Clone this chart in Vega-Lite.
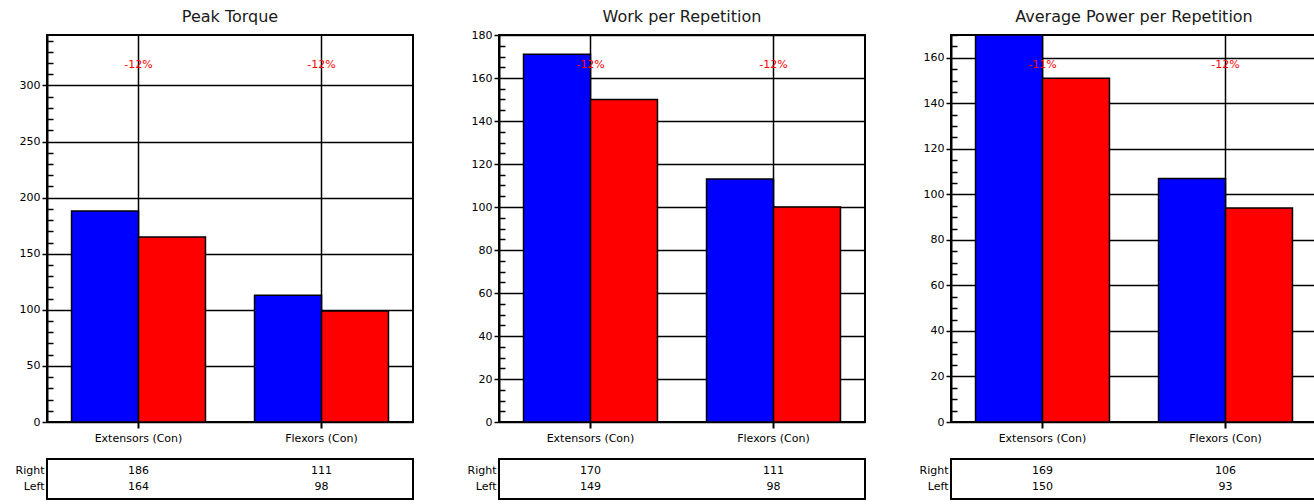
{
  "$schema": "https://vega.github.io/schema/vega-lite/v6.json",
  "padding": {"left": 13, "top": 7, "right": 0, "bottom": 0},
  "background": "white",
  "datasets": {
    "bars": [
      {"metric": "Peak Torque", "muscle": "Extensors (Con)", "side": "Right", "value": 188, "shown": "186"},
      {"metric": "Peak Torque", "muscle": "Extensors (Con)", "side": "Left", "value": 165, "shown": "164"},
      {"metric": "Peak Torque", "muscle": "Flexors (Con)", "side": "Right", "value": 113, "shown": "111"},
      {"metric": "Peak Torque", "muscle": "Flexors (Con)", "side": "Left", "value": 99, "shown": "98"},
      {"metric": "Work per Repetition", "muscle": "Extensors (Con)", "side": "Right", "value": 171, "shown": "170"},
      {"metric": "Work per Repetition", "muscle": "Extensors (Con)", "side": "Left", "value": 150, "shown": "149"},
      {"metric": "Work per Repetition", "muscle": "Flexors (Con)", "side": "Right", "value": 113, "shown": "111"},
      {"metric": "Work per Repetition", "muscle": "Flexors (Con)", "side": "Left", "value": 100, "shown": "98"},
      {"metric": "Average Power per Repetition", "muscle": "Extensors (Con)", "side": "Right", "value": 170, "shown": "169"},
      {"metric": "Average Power per Repetition", "muscle": "Extensors (Con)", "side": "Left", "value": 151, "shown": "150"},
      {"metric": "Average Power per Repetition", "muscle": "Flexors (Con)", "side": "Right", "value": 107, "shown": "106"},
      {"metric": "Average Power per Repetition", "muscle": "Flexors (Con)", "side": "Left", "value": 94, "shown": "93"}
    ],
    "pct": [
      {"metric": "Peak Torque", "muscle": "Extensors (Con)", "pct": "-12%"},
      {"metric": "Peak Torque", "muscle": "Flexors (Con)", "pct": "-12%"},
      {"metric": "Work per Repetition", "muscle": "Extensors (Con)", "pct": "-12%"},
      {"metric": "Work per Repetition", "muscle": "Flexors (Con)", "pct": "-12%"},
      {"metric": "Average Power per Repetition", "muscle": "Extensors (Con)", "pct": "-11%"},
      {"metric": "Average Power per Repetition", "muscle": "Flexors (Con)", "pct": "-12%"}
    ]
  },
  "spacing": 51,
  "hconcat": [
    {
      "spacing": 14,
      "vconcat": [
        {
          "title": {"text": "Peak Torque"},
          "width": 366,
          "height": 387,
          "layer": [
            {
              "data": {"name": "bars"},
              "transform": [{"filter": "datum.metric == 'Peak Torque'"}],
              "mark": {"type": "bar", "stroke": "black", "strokeWidth": 1.5},
              "encoding": {
                "x": {"field": "muscle", "type": "nominal", "sort": ["Extensors (Con)", "Flexors (Con)"], "scale": {"paddingInner": 0.268, "paddingOuter": 0.134},
                  "axis": {"title": null, "labelAngle": 0, "bandPosition": 0.5, "grid": true, "gridColor": "black", "gridWidth": 1.5, "gridOpacity": 1, "ticks": true, "tickSize": 6, "tickWidth": 2, "tickColor": "black", "domain": false, "labelPadding": 4}},
                "xOffset": {"field": "side", "type": "nominal", "sort": ["Right", "Left"], "scale": {"paddingInner": 0, "paddingOuter": 0}},
                "y": {"field": "value", "type": "quantitative", "scale": {"domain": [0, 345], "nice": false, "zero": true},
                  "axis": {"title": null, "format": "d", "labelOverlap": false, "tickCount": 1000, "values": [0,10,20,30,40,50,60,70,80,90,100,110,120,130,140,150,160,170,180,190,200,210,220,230,240,250,260,270,280,290,300,310,320,330,340],
                    "labelExpr": "datum.value % 50 == 0 ? datum.label : ''",
                    "tickSize": {"condition": {"test": "datum.value % 50 == 0", "value": 5}, "value": -6},
                    "gridOpacity": {"condition": {"test": "datum.value % 50 == 0", "value": 1}, "value": 0},
                    "minExtent": 33, "maxExtent": 33}},
                "color": {"field": "side", "type": "nominal", "scale": {"domain": ["Right", "Left"], "range": ["#0000ff", "#ff0000"]}, "legend": null}
              }
            },
            {
              "data": {"name": "pct"},
              "transform": [{"filter": "datum.metric == 'Peak Torque'"}],
              "mark": {"type": "text", "color": "#ff0000", "fontSize": 11, "dy": 30, "baseline": "middle"},
              "encoding": {
                "x": {"field": "muscle", "type": "nominal"},
                "y": {"datum": 345},
                "text": {"field": "pct"}
              }
            }
          ]
        },
        {
          "width": 366,
          "height": 40,
          "data": {"name": "bars"},
          "transform": [{"filter": "datum.metric == 'Peak Torque'"}],
          "mark": {"type": "text", "fontSize": 11, "baseline": "middle"},
          "encoding": {
            "x": {"field": "muscle", "type": "nominal", "sort": ["Extensors (Con)", "Flexors (Con)"], "scale": {"type": "band", "paddingInner": 0.268, "paddingOuter": 0.134}, "axis": null},
            "y": {"field": "side", "type": "nominal", "sort": ["Right", "Left"], "scale": {"type": "band", "paddingInner": 0, "paddingOuter": 0.3}, "axis": {"title": null, "ticks": false, "domain": false, "grid": false, "labelPadding": 3, "minExtent": 33, "maxExtent": 33}},
            "text": {"field": "shown"}
          }
        }
      ]
    },
    {
      "spacing": 14,
      "vconcat": [
        {
          "title": {"text": "Work per Repetition", "offset": 4},
          "width": 366,
          "height": 387,
          "layer": [
            {
              "data": {"name": "bars"},
              "transform": [{"filter": "datum.metric == 'Work per Repetition'"}],
              "mark": {"type": "bar", "stroke": "black", "strokeWidth": 1.5},
              "encoding": {
                "x": {"field": "muscle", "type": "nominal", "sort": ["Extensors (Con)", "Flexors (Con)"], "scale": {"paddingInner": 0.268, "paddingOuter": 0.134},
                  "axis": {"title": null, "labelAngle": 0, "bandPosition": 0.5, "grid": true, "gridColor": "black", "gridWidth": 1.5, "gridOpacity": 1, "ticks": true, "tickSize": 6, "tickWidth": 2, "tickColor": "black", "domain": false, "labelPadding": 4}},
                "xOffset": {"field": "side", "type": "nominal", "sort": ["Right", "Left"], "scale": {"paddingInner": 0, "paddingOuter": 0}},
                "y": {"field": "value", "type": "quantitative", "scale": {"domain": [0, 180], "nice": false, "zero": true},
                  "axis": {"title": null, "format": "d", "labelOverlap": false, "tickCount": 1000, "values": [0,5,10,15,20,25,30,35,40,45,50,55,60,65,70,75,80,85,90,95,100,105,110,115,120,125,130,135,140,145,150,155,160,165,170,175,180],
                    "labelExpr": "datum.value % 20 == 0 ? datum.label : ''",
                    "tickSize": {"condition": {"test": "datum.value % 20 == 0", "value": 5}, "value": -6},
                    "gridOpacity": {"condition": {"test": "datum.value % 20 == 0", "value": 1}, "value": 0},
                    "minExtent": 33, "maxExtent": 33}},
                "color": {"field": "side", "type": "nominal", "scale": {"domain": ["Right", "Left"], "range": ["#0000ff", "#ff0000"]}, "legend": null}
              }
            },
            {
              "data": {"name": "pct"},
              "transform": [{"filter": "datum.metric == 'Work per Repetition'"}],
              "mark": {"type": "text", "color": "#ff0000", "fontSize": 11, "dy": 30, "baseline": "middle"},
              "encoding": {
                "x": {"field": "muscle", "type": "nominal"},
                "y": {"datum": 180},
                "text": {"field": "pct"}
              }
            }
          ]
        },
        {
          "width": 366,
          "height": 40,
          "data": {"name": "bars"},
          "transform": [{"filter": "datum.metric == 'Work per Repetition'"}],
          "mark": {"type": "text", "fontSize": 11, "baseline": "middle"},
          "encoding": {
            "x": {"field": "muscle", "type": "nominal", "sort": ["Extensors (Con)", "Flexors (Con)"], "scale": {"type": "band", "paddingInner": 0.268, "paddingOuter": 0.134}, "axis": null},
            "y": {"field": "side", "type": "nominal", "sort": ["Right", "Left"], "scale": {"type": "band", "paddingInner": 0, "paddingOuter": 0.3}, "axis": {"title": null, "ticks": false, "domain": false, "grid": false, "labelPadding": 3, "minExtent": 33, "maxExtent": 33}},
            "text": {"field": "shown"}
          }
        }
      ]
    },
    {
      "spacing": 14,
      "vconcat": [
        {
          "title": {"text": "Average Power per Repetition", "offset": 4},
          "width": 366,
          "height": 387,
          "layer": [
            {
              "data": {"name": "bars"},
              "transform": [{"filter": "datum.metric == 'Average Power per Repetition'"}],
              "mark": {"type": "bar", "stroke": "black", "strokeWidth": 1.5},
              "encoding": {
                "x": {"field": "muscle", "type": "nominal", "sort": ["Extensors (Con)", "Flexors (Con)"], "scale": {"paddingInner": 0.268, "paddingOuter": 0.134},
                  "axis": {"title": null, "labelAngle": 0, "bandPosition": 0.5, "grid": true, "gridColor": "black", "gridWidth": 1.5, "gridOpacity": 1, "ticks": true, "tickSize": 6, "tickWidth": 2, "tickColor": "black", "domain": false, "labelPadding": 4}},
                "xOffset": {"field": "side", "type": "nominal", "sort": ["Right", "Left"], "scale": {"paddingInner": 0, "paddingOuter": 0}},
                "y": {"field": "value", "type": "quantitative", "scale": {"domain": [0, 170], "nice": false, "zero": true},
                  "axis": {"title": null, "format": "d", "labelOverlap": false, "tickCount": 1000, "values": [0,5,10,15,20,25,30,35,40,45,50,55,60,65,70,75,80,85,90,95,100,105,110,115,120,125,130,135,140,145,150,155,160,165,170],
                    "labelExpr": "datum.value % 20 == 0 ? datum.label : ''",
                    "tickSize": {"condition": {"test": "datum.value % 20 == 0", "value": 5}, "value": -6},
                    "gridOpacity": {"condition": {"test": "datum.value % 20 == 0", "value": 1}, "value": 0},
                    "minExtent": 33, "maxExtent": 33}},
                "color": {"field": "side", "type": "nominal", "scale": {"domain": ["Right", "Left"], "range": ["#0000ff", "#ff0000"]}, "legend": null}
              }
            },
            {
              "data": {"name": "pct"},
              "transform": [{"filter": "datum.metric == 'Average Power per Repetition'"}],
              "mark": {"type": "text", "color": "#ff0000", "fontSize": 11, "dy": 30, "baseline": "middle"},
              "encoding": {
                "x": {"field": "muscle", "type": "nominal"},
                "y": {"datum": 170},
                "text": {"field": "pct"}
              }
            }
          ]
        },
        {
          "width": 366,
          "height": 40,
          "data": {"name": "bars"},
          "transform": [{"filter": "datum.metric == 'Average Power per Repetition'"}],
          "mark": {"type": "text", "fontSize": 11, "baseline": "middle"},
          "encoding": {
            "x": {"field": "muscle", "type": "nominal", "sort": ["Extensors (Con)", "Flexors (Con)"], "scale": {"type": "band", "paddingInner": 0.268, "paddingOuter": 0.134}, "axis": null},
            "y": {"field": "side", "type": "nominal", "sort": ["Right", "Left"], "scale": {"type": "band", "paddingInner": 0, "paddingOuter": 0.3}, "axis": {"title": null, "ticks": false, "domain": false, "grid": false, "labelPadding": 3, "minExtent": 33, "maxExtent": 33}},
            "text": {"field": "shown"}
          }
        }
      ]
    }
  ],
  "config": {
    "font": "DejaVu Sans",
    "view": {"stroke": "black", "strokeWidth": 2},
    "text": {"font": "DejaVu Sans", "color": "black"},
    "title": {"font": "DejaVu Sans", "fontSize": 16, "fontWeight": "normal", "color": "#1a1a1a", "offset": 10, "frame": "group", "anchor": "middle"},
    "axis": {"labelFont": "DejaVu Sans", "labelFontSize": 11, "labelColor": "black", "domainColor": "black", "domainWidth": 2, "tickColor": "black", "tickWidth": 1.5, "gridColor": "black", "gridWidth": 1.5, "labelPadding": 2}
  }
}
